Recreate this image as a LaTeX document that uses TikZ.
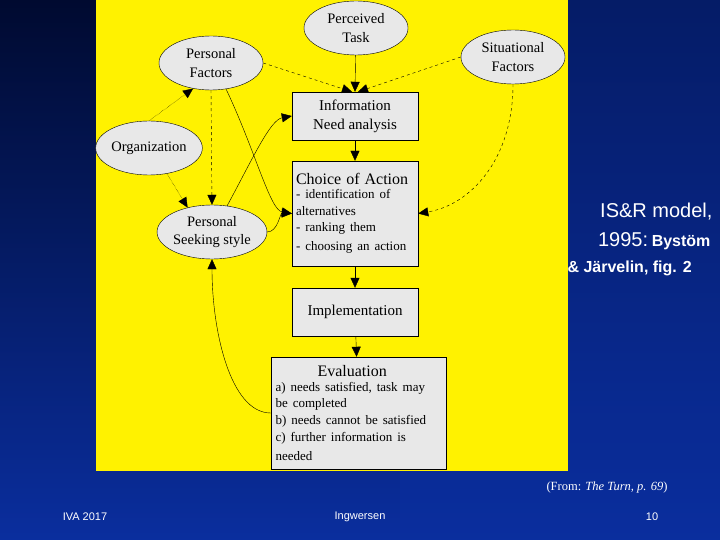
\documentclass[tikz,border=0pt]{standalone}
\usepackage{fontspec}
\setmainfont{Liberation Serif}
\newfontfamily\arial{Liberation Sans}
\usetikzlibrary{shapes.geometric,arrows.meta}
\definecolor{boxgray}{HTML}{E8E8E8}
\definecolor{bgblue}{HTML}{0A2E9E}
\definecolor{bgdark}{HTML}{000A30}
\tikzset{
  ell/.style={ellipse,draw,fill=boxgray,minimum width=104pt,minimum height=54pt,inner sep=0pt,align=center,font=\fontsize{14.5}{18.5}\selectfont},
  rbox/.style={draw,fill=boxgray,inner sep=0pt,font=\fontsize{15}{19}\selectfont},
  arr/.style={-{Triangle[length=10pt,width=9pt]},thin},
  wt/.style={text=white,font=\arial}
}
\begin{document}
\begin{tikzpicture}[x=1pt,y=-1pt]
\useasboundingbox (0,0) rectangle (720,540);
\shade[top color=bgdark,bottom color=bgblue] (0,0) rectangle (720,540);
\fill[bgblue,opacity=0.5] (400,0) rectangle (720,540);
\fill[yellow] (96,0) rectangle (568,471);
% ellipses
\node[ell] (task) at (356,28) {Perceived\\Task};
\node[ell] (pf) at (211,63) {Personal\\Factors};
\node[ell] (sf) at (513,57) {Situational\\Factors};
\node[ell] (org) at (149,148) {Organization};
\node[ell] (ps) at (212,232) {Personal\\Seeking style};
% boxes
\node[rbox,minimum width=126pt,minimum height=48pt,align=center] (ina) at (355,116) {Information\\Need analysis};
\node[rbox,minimum width=126pt,minimum height=105pt,align=left,text width=118pt] (coa) at (355,213.5) {{\fontsize{16}{19}\selectfont Choice of Action}\\[-2pt]{\fontsize{13}{16.5}\selectfont - identification of\\alternatives\\- ranking them\\- choosing an action}};
\node[rbox,minimum width=126pt,minimum height=48pt] (imp) at (355,312) {Implementation};
\node[rbox,minimum width=175pt,minimum height=112pt,align=left,text width=166pt] (ev) at (358.5,413) {\hspace*{42pt}{\fontsize{16}{19}\selectfont Evaluation}\\[-2pt]{\fontsize{13}{16.8}\selectfont a) needs satisfied, task may\\be completed\\b) needs cannot be satisfied\\c) further information is\\needed}};
% connectors
\draw[arr] (task) -- (ina.north);
\draw[arr,dashed] (pf.east) -- ([xshift=-3pt]ina.north);
\draw[arr,dashed] (sf.west) -- ([xshift=3pt]ina.north);
\draw[arr] (ina) -- (coa);
\draw[arr] (coa) -- (imp);
\draw[arr] (imp) -- (ev);
\draw[arr,dashed] (sf.south) .. controls (513,160) and (470,205) .. (coa.east);
\draw[arr] (pf.300) .. controls (255,150) and (270,210) .. (coa.west);
\draw[arr,dashed] (pf.south) -- (ps.north);
\draw[arr,densely dotted] (org.north) -- (pf.235);
\draw[arr,densely dotted] (org.305) -- (ps.135);
\draw[arr] (ps.60) .. controls (252,160) and (270,120) .. (ina.west);
\draw[arr] (ps.east) .. controls (278,232) and (280,213) .. (coa.west);
\draw[arr] (ev.west) .. controls (230,413) and (212,330) .. (ps.south);
% side texts
\node[wt,anchor=east,font=\arial\fontsize{20}{24}\selectfont] (t1) at (716,212) {IS\&R model,};
\node[wt,anchor=east] (t2) at (714,241) {{\fontsize{20}{24}\selectfont 1995:} {\fontsize{16}{19}\selectfont\bfseries Bystöm}};
\node[wt,anchor=west,font=\arial\fontsize{16}{19}\selectfont\bfseries] (t3) at (564,268) {\& Järvelin, fig. 2};
\node[text=white,font=\fontsize{12.5}{14}\selectfont] (src) at (607,487) {(From: \textit{The Turn, p. 69})};
\node[wt,font=\arial\fontsize{11}{13}\selectfont] (f1) at (85,517) {IVA 2017};
\node[wt,font=\arial\fontsize{11}{13}\selectfont] (f2) at (360,517) {Ingwersen};
\node[wt,font=\arial\fontsize{11}{13}\selectfont] (f3) at (652,517) {10};
\end{tikzpicture}
\end{document}
